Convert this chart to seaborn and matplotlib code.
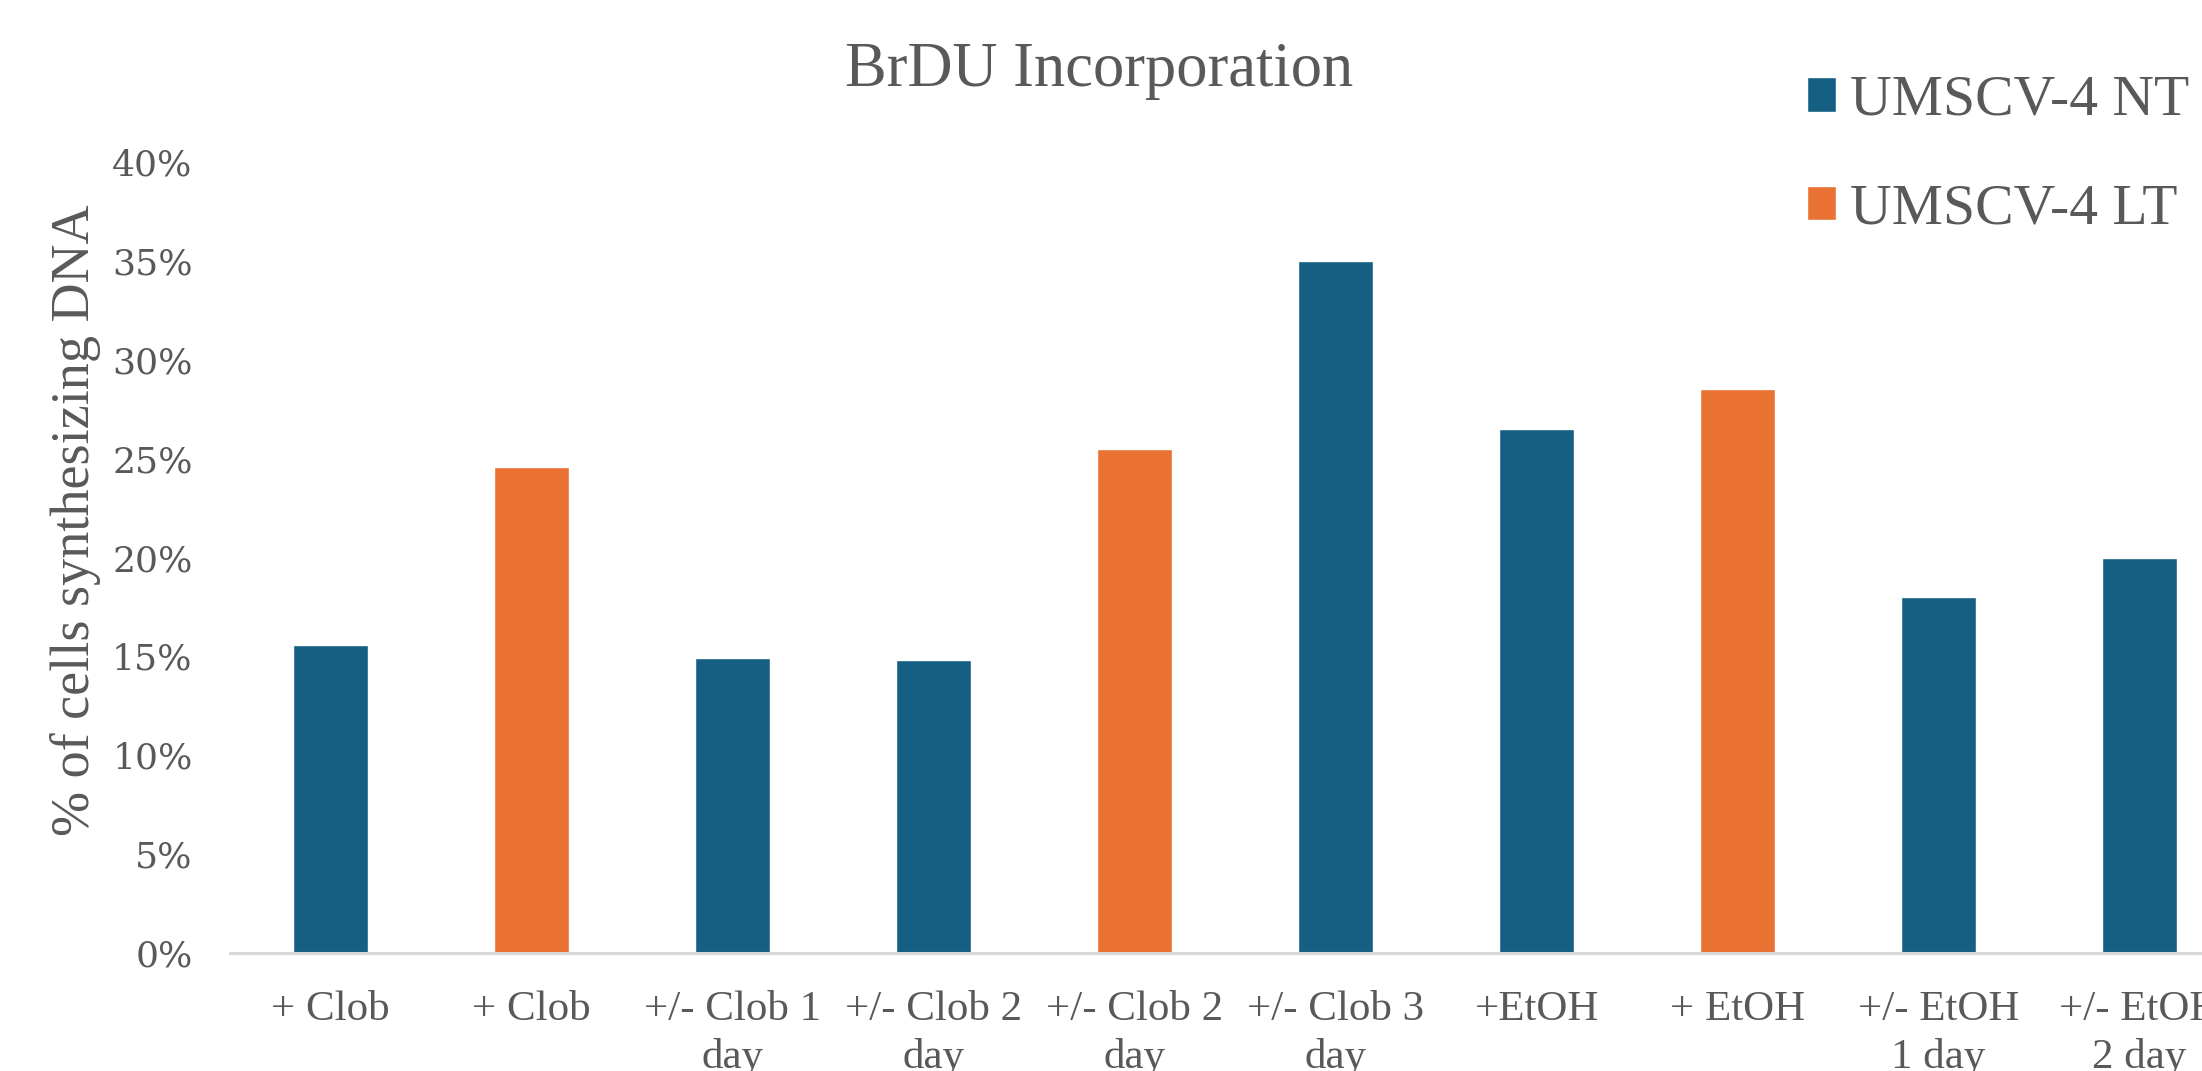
import matplotlib
matplotlib.use("Agg")
import matplotlib.pyplot as plt
from matplotlib.ticker import PercentFormatter
import pandas as pd
import seaborn as sns

# data
conditions = ["+ Clob", "+ Clob", "+/- Clob 1\nday", "+/- Clob 2\nday", "+/- Clob 2\nday",
              "+/- Clob 3\nday", "+EtOH", "+ EtOH", "+/- EtOH\n1 day", "+/- EtOH\n2 day"]
cell_line = ["UMSCV-4 NT", "UMSCV-4 LT", "UMSCV-4 NT", "UMSCV-4 NT", "UMSCV-4 LT",
             "UMSCV-4 NT", "UMSCV-4 NT", "UMSCV-4 LT", "UMSCV-4 NT", "UMSCV-4 NT"]
pct_synth = [0.156, 0.246, 0.149, 0.148, 0.255, 0.350, 0.265, 0.285, 0.180, 0.200]
series = ["UMSCV-4 NT", "UMSCV-4 LT"]
colors = ["#156082", "#E97132"]
grey = "#595959"

sns.set_style("white")
plt.rcParams["font.family"] = ["Liberation Serif", "DejaVu Serif"]

df = pd.DataFrame({"pos": range(len(conditions)), "cell": cell_line, "pct": pct_synth})

fig = plt.figure(figsize=(22.02, 10.71), dpi=100)
ax = fig.add_axes([0.1045, 0.1102, 0.9128, 0.7385])

sns.barplot(data=df, x="pos", y="pct", hue="cell", hue_order=series,
            palette=colors, dodge=False, width=0.373, saturation=1, ax=ax)

ax.set_xlim(-0.5, len(conditions) - 0.5)
ax.set_ylim(0, 0.40)
ax.set_yticks([i * 0.05 for i in range(9)])
ax.yaxis.set_major_formatter(PercentFormatter(1.0, decimals=0))
ax.set_xticks(range(len(conditions)))
ax.set_xticklabels(conditions, fontsize=31, color=grey, linespacing=1.3)
for t in ax.get_yticklabels():
    t.set_family("DejaVu Serif")
    t.set_fontsize(26)
    t.set_color(grey)
ax.tick_params(axis="y", length=0, pad=27)
ax.tick_params(axis="x", length=0, pad=27)

ax.set_xlabel("")
ax.set_ylabel("% of cells synthesizing DNA", fontsize=39, color=grey)
ax.yaxis.set_label_coords(-0.064, 0.547)

sns.despine(ax=ax, left=True)
ax.spines["bottom"].set_color("#D9D9D9")
ax.spines["bottom"].set_linewidth(2.2)

handles, labels = ax.get_legend_handles_labels()
ax.get_legend().remove()
fig.legend(handles, labels, loc="upper left", bbox_to_anchor=(0.8206, 0.93),
           frameon=False, fontsize=41.5, labelcolor=grey, handlelength=0.5,
           handleheight=0.55, handletextpad=0.25, labelspacing=0.98,
           borderpad=0, borderaxespad=0)

fig.text(0.499, 1 - 71 / 1071, "BrDU Incorporation", ha="center", va="center",
         fontsize=45, color=grey)

fig.savefig("out.png", dpi=100)
